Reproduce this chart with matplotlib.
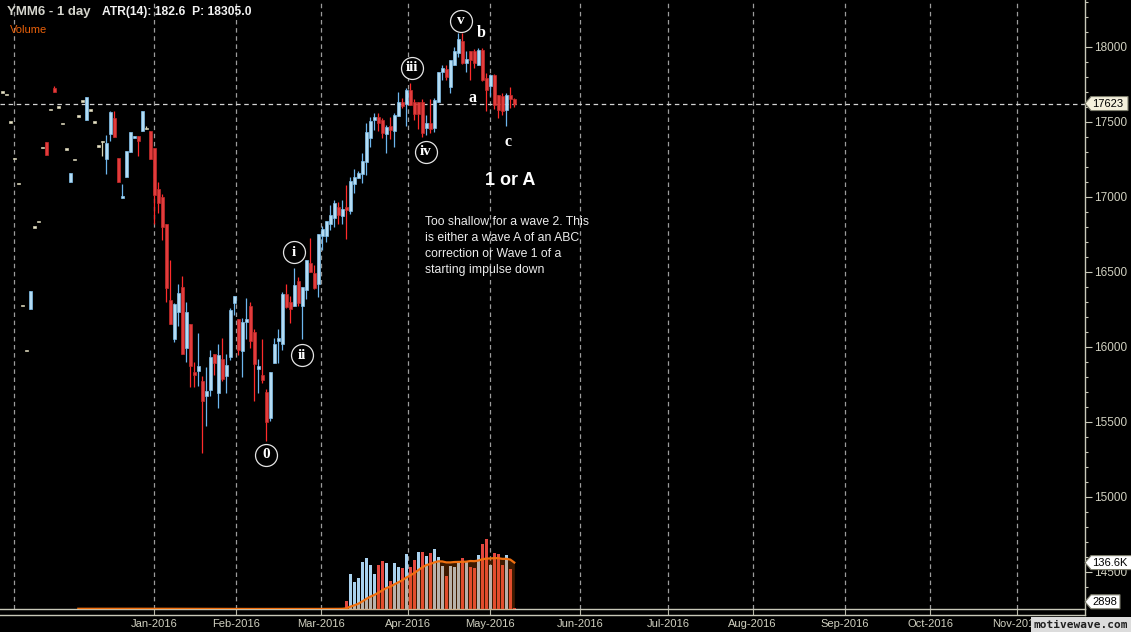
import numpy as np
import pandas as pd
import matplotlib
matplotlib.use('Agg')
import matplotlib.pyplot as plt
from matplotlib.lines import Line2D
from matplotlib.patches import Polygon
from matplotlib.transforms import IdentityTransform
from matplotlib.ticker import MultipleLocator

plt.rcParams['font.family'] = ['Liberation Sans', 'DejaVu Sans']

# bar index: 0 = first session of Jan-2016, negative = thin Dec-2015 trading
bar_idx = np.arange(-38, 91)

opens = [
    17700, 17685, 17500, 17255, 17090, 16275, 15975, 16250, 16800, 16835,
    17330, 17365, 17585, 17725, 17600, 17490, 17320, 17100, 17250, 17540,
    17640, 17510, 17580, 17500, 17340, 17370, 17250, 17420, 17525, 17260,
    16995, 17130, 17300, 17395, 17405, 17440, 17455, 17440,
    17325, 17055, 17000, 16820, 16315, 16055, 16235, 16400, 15995, 16155,
    15830, 15840, 15775, 15670, 15715, 15950, 15695, 15920, 15805, 15930,
    16295, 16185, 15970, 16165, 16275, 16100, 15850, 15815, 15700, 15525,
    15895, 16040, 16020, 16355, 16300, 16270, 16440, 16275, 16380, 16560,
    16490, 16420, 16740, 16740, 16820, 16860, 16935, 16875, 16935, 16905,
    17085, 17125, 17155, 17235, 17390, 17510, 17535, 17515, 17420, 17470,
    17440, 17540, 17635, 17620, 17715, 17630, 17630, 17635, 17460, 17490,
    17460, 17635, 17830, 17855, 17735, 17880, 17960, 18040, 17890, 17970,
    17975, 17880, 17980, 17790, 17740, 17815, 17680, 17670, 17580, 17680,
    17650]
highs = [
    17700, 17685, 17500, 17255, 17090, 16275, 15975, 16370, 16800, 16835,
    17330, 17365, 17585, 17740, 17600, 17490, 17320, 17160, 17250, 17540,
    17640, 17665, 17580, 17500, 17340, 17375, 17410, 17575, 17570, 17260,
    17085, 17305, 17435, 17405, 17405, 17575, 17475, 17440,
    17325, 17100, 17020, 16820, 16580, 16295, 16420, 16475, 16300, 16155,
    15900, 16095, 15805, 15865, 15980, 15950, 16020, 16060, 15950, 16260,
    16340, 16185, 16195, 16325, 16300, 16120, 15920, 16055, 15720, 15835,
    16060, 16120, 16365, 16420, 16340, 16525, 16465, 16400, 16580, 16725,
    16545, 16755, 16805, 16840, 16945, 16980, 16965, 16980, 17080, 17135,
    17185, 17175, 17295, 17495, 17535, 17560, 17560, 17525, 17480, 17530,
    17560, 17700, 17660, 17725, 17760, 17650, 17635, 17650, 17545, 17650,
    17660, 17835, 17880, 17880, 17915, 18000, 18090, 18090, 17970, 17970,
    17985, 17990, 17990, 17825, 17820, 17820, 17680, 17690, 17690, 17730,
    17660]
lows = [
    17700, 17685, 17500, 17255, 17090, 16275, 15975, 16250, 16800, 16835,
    17330, 17280, 17585, 17700, 17600, 17490, 17320, 17100, 17250, 17540,
    17640, 17510, 17580, 17500, 17340, 17270, 17155, 17370, 17400, 17100,
    16995, 17130, 17300, 17395, 17275, 17440, 17450, 17250,
    16820, 16895, 16715, 16300, 16150, 16030, 16140, 15955, 15900, 15735,
    15730, 15740, 15295, 15475, 15675, 15815, 15595, 15770, 15695, 15915,
    16210, 15945, 15800, 16055, 15990, 15640, 15690, 15760, 15370, 15505,
    15895, 15895, 15980, 16260, 16160, 16270, 16275, 16050, 16320, 16500,
    16385, 16335, 16645, 16700, 16780, 16800, 16820, 16820, 16720, 16885,
    17025, 17125, 17095, 17145, 17330, 17445, 17440, 17390, 17295, 17385,
    17335, 17540, 17590, 17470, 17615, 17515, 17450, 17400, 17415, 17425,
    17435, 17635, 17780, 17780, 17690, 17880, 17935, 17885, 17835, 17780,
    17860, 17880, 17770, 17570, 17670, 17585, 17525, 17545, 17475, 17590,
    17600]
closes = [
    17700, 17685, 17500, 17255, 17090, 16275, 15975, 16370, 16800, 16835,
    17330, 17280, 17585, 17700, 17600, 17490, 17320, 17160, 17250, 17540,
    17640, 17665, 17580, 17500, 17340, 17370, 17360, 17565, 17400, 17100,
    17005, 17305, 17435, 17405, 17370, 17575, 17455, 17250,
    17010, 16960, 16800, 16390, 16150, 16285, 16360, 15955, 16235, 15875,
    15815, 15875, 15640, 15705, 15935, 15895, 15945, 15785, 15880, 16245,
    16340, 15980, 16165, 16185, 16040, 15885, 15875, 15780, 15500, 15835,
    16020, 16060, 16350, 16265, 16255, 16415, 16290, 16400, 16580, 16500,
    16395, 16755, 16785, 16840, 16880, 16960, 16880, 16920, 16915, 17105,
    17135, 17160, 17240, 17435, 17505, 17535, 17495, 17425, 17465, 17445,
    17545, 17635, 17605, 17715, 17615, 17550, 17555, 17425, 17495, 17450,
    17645, 17835, 17860, 17800, 17910, 17975, 18050, 17890, 17920, 17910,
    17890, 17980, 17780, 17715, 17815, 17615, 17580, 17575, 17680, 17650,
    17623]
# volume in thousands of contracts
volume_k = [
    1.4, 1.1, 1.7, 1.3, 1.5, 2.0, 1.2, 2.3, 1.4, 1.1,
    1.8, 2.1, 1.3, 1.6, 1.2, 1.4, 1.7, 1.9, 1.3, 1.5,
    1.1, 2.2, 1.4, 1.6, 1.3, 1.8, 2.0, 1.7, 1.5, 1.9,
    2.1, 1.6, 1.4, 1.2, 1.5, 1.9, 1.3, 1.7,
    1.2, 1.0, 0.9, 1.3, 1.1, 0.8, 1.0, 1.2, 0.9, 1.1,
    1.0, 0.8, 1.3, 0.9, 1.1, 1.0, 1.2, 0.9, 1.0, 1.1,
    0.8, 1.0, 1.2, 0.9, 1.1, 1.3, 1.0, 0.9, 1.2, 1.0,
    1.1, 0.9, 1.0, 1.2, 1.1, 0.9, 1.3, 1.0, 1.2, 1.4,
    1.1, 1.5, 1.3, 1.6, 1.8, 2.0, 2.4,
    5, 25, 102, 79, 93, 137, 151, 129, 102, 129,
    142, 134, 84, 134, 123, 120, 163, 125, 145, 169,
    169, 157, 166, 175, 154, 128, 96, 128, 125, 137,
    151, 137, 125, 122, 160, 192, 207, 131, 166, 163,
    131, 160, 119, 2.898]

month_labels = ['', 'Jan-2016', 'Feb-2016', 'Mar-2016', 'Apr-2016', 'May-2016',
                'Jun-2016', 'Jul-2016', 'Aug-2016', 'Sep-2016', 'Oct-2016', 'Nov-2016']
month_pos = [-35, 0, 20.5, 41.55, 63.5, 84, 106.5, 128.5, 149.6, 172.6, 194, 215.6]

wave_labels = ['0', 'i', 'ii', 'iii', 'iv', 'v']
wave_x = [27.85, 34.9, 36.9, 64.35, 67.9, 76.7]
wave_y = [15280, 16630, 15945, 17860, 17300, 18175]
abc_labels = ['a', 'b', 'c']
abc_x = [79.6, 81.7, 88.35]
abc_y = [17662, 18091, 17365]

note = ("Too shallow for a wave 2. This\nis either a wave A of an ABC\n"
        "correction or Wave 1 of a\nstarting impulse down")

W, H = 1131, 632


def fx(px):
    return px / W


def fy(py):
    return 1 - py / H


fig = plt.figure(figsize=(W / 100, H / 100), dpi=100, facecolor='black')
rect = [0, fy(609.3), fx(1085), 609.3 / H]
ax = fig.add_axes(rect, facecolor='black')
ax.set_xlim(-38.575, 232.675)
ax.set_ylim(14251.3, 18313.3)

# grid + last price line
for p in month_pos:
    ax.axvline(p, color='#9c9c9c', lw=0.9, ls=(0, (3.6, 2.9)), zorder=1)
ax.axhline(closes[-1], color='#d4d4d4', lw=0.9, ls=(0, (3.6, 2.9)), zorder=2)

# candles
x = bar_idx
o, h, l, c = map(np.array, (opens, highs, lows, closes))
up = c > o
dn = c < o
wick_col = np.where(up, '#6db6ee', np.where(dn, '#ff2b2b', '#d8d4b4'))
face_col = np.where(up, '#b4dcf4', np.where(dn, '#e23c3c', '#e8e4c8'))
edge_col = np.where(up, '#7fbfea', np.where(dn, '#c42a2a', '#d0ccb0'))
ax.vlines(x, l, h, colors=wick_col, lw=0.9, zorder=3)
body_h = np.maximum(np.abs(c - o), 9)
body_lo = np.where(c == o, o - 4.5, np.minimum(o, c))
ax.bar(x, body_h, bottom=body_lo, width=0.72, color=face_col,
       edgecolor=edge_col, linewidth=0.5, zorder=4)

# axes styling
for s in ['top', 'left']:
    ax.spines[s].set_visible(False)
for s in ['right', 'bottom']:
    ax.spines[s].set_color('#c8c8b8')
    ax.spines[s].set_linewidth(1)
ax.yaxis.tick_right()
ax.yaxis.set_major_locator(MultipleLocator(500))
ax.yaxis.set_minor_locator(MultipleLocator(100))
ax.tick_params(axis='y', which='major', length=5, width=0.8, color='#c8c8b8',
               labelcolor='#d0d0c0', labelsize=8.5, pad=1.5)
ax.tick_params(axis='y', which='minor', length=2.5, width=0.8, color='#c8c8b8')
ax.set_xticks(month_pos[1:])
ax.set_xticklabels(month_labels[1:])
ax.tick_params(axis='x', length=4.3, width=0.8, color='#b8b8a8',
               labelcolor='#d0d0c0', labelsize=8, pad=3)

# volume pane overlaid at the bottom
axv = fig.add_axes(rect, facecolor='none')
axv.set_xlim(ax.get_xlim())
axv.set_ylim(0, 1782.2)
axv.axis('off')
vol = np.array(volume_k)
chg = np.diff(c, prepend=c[0])
vcol = np.where(chg > 0, '#a9d1ee', np.where(chg < 0, '#e4473f', '#b8b8a8'))
axv.bar(x, vol, width=0.72, color=vcol, zorder=2)
vol_ma = pd.Series(vol).rolling(20).mean().values
axv.fill_between(x, 0, vol_ma, color='#e06000', alpha=0.28, lw=0, zorder=3)
axv.plot(x, vol_ma, color='#f07010', lw=1.6, zorder=4)

# outer frame lines
fig.add_artist(Line2D([0, fx(1085)], [fy(615.3), fy(615.3)], color='#c8c8b8', lw=1))
fig.add_artist(Line2D([fx(1085), fx(1085)], [fy(609.3), fy(615.3)], color='#c8c8b8', lw=1))


def tag(yd, text, face, xr):
    pts = [(1085, yd), (1091, yd + 7), (xr, yd + 7), (xr, yd - 7), (1091, yd - 7)]
    fig.add_artist(Polygon(pts, closed=True, transform=IdentityTransform(),
                           facecolor=face, edgecolor='#7c7c6c', lw=0.8))
    fig.text(1092, yd, text, transform=IdentityTransform(), color='black',
             fontsize=8, ha='left', va='center')


fig.canvas.draw()
tag(ax.transData.transform((0, closes[-1]))[1], '%d' % closes[-1], '#f4f0dc', 1128)
tag(axv.transData.transform((0, 136.6))[1], '136.6K', 'white', 1134)
base = axv.transData.transform((0, 0))[1]
tag(max(axv.transData.transform((0, vol[-1]))[1], base + 7.5), '%d' % (vol[-1] * 1000), 'white', 1120)

# wave labels
ax.plot(wave_x, wave_y, 'o', ms=15.8, mfc='black', mec='#e4e4e4', mew=0.9, zorder=6)
for t, wx, wy in zip(wave_labels, wave_x, wave_y):
    ax.text(wx, wy, t, color='white', fontsize=11, fontweight='bold',
            family='Liberation Serif', ha='center', va='center', zorder=7)
for t, wx, wy in zip(abc_labels, abc_x, abc_y):
    ax.text(wx, wy, t, color='white', fontsize=11.5, fontweight='bold',
            family='Liberation Serif', ha='center', va='center', zorder=7)
ax.text(88.9, 17110, '1 or A', color='white', fontsize=13, fontweight='bold',
        ha='center', va='center', zorder=7)
ax.text(67.7, 16870, note, color='#ececec', fontsize=8.8, ha='left', va='top',
        linespacing=1.42, zorder=7)

# header
fig.text(fx(7), fy(12.3), 'YMM6 - 1 day', color='#d4d4cc', fontsize=9.5,
         fontweight='bold', ha='left', va='center')
fig.text(fx(101.7), fy(12.3), 'ATR(14): 182.6  P: 18305.0', color='#f2f2f2',
         fontsize=8.7, fontweight='bold', ha='left', va='center')
fig.text(fx(10), fy(30), 'Volume', color='#e8600a', fontsize=8, ha='left', va='center')

# watermark
fig.text(fx(1081), fy(625), 'motivewave.com', color='#202020', fontsize=8,
         family='DejaVu Sans Mono', fontweight='bold', ha='center', va='center',
         bbox=dict(boxstyle='square,pad=0.25', facecolor='#dcdcdc', edgecolor='none'))

fig.savefig('out.png', dpi=100, facecolor='black')
